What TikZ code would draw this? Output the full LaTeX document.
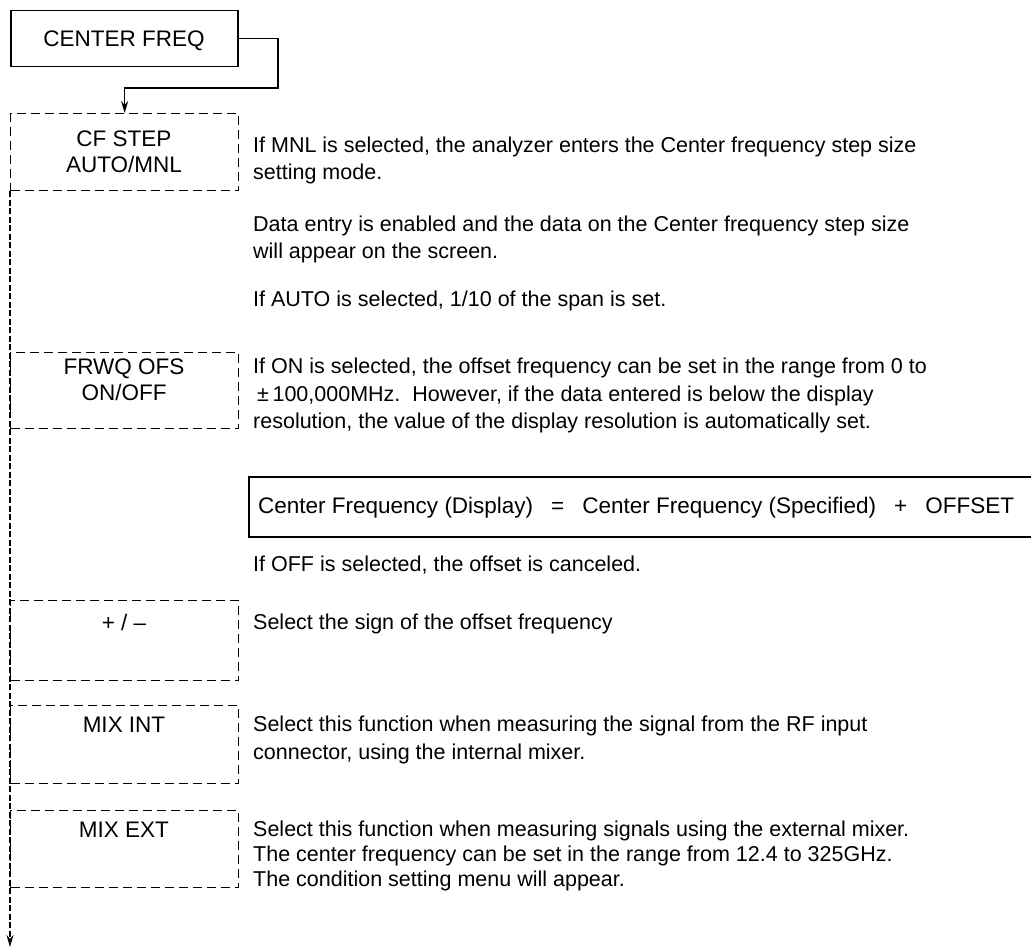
\documentclass[tikz,border=0pt]{standalone}
\usepackage{fontspec}
\setmainfont{Liberation Sans}
\usetikzlibrary{arrows.meta}
\begin{document}
\begin{tikzpicture}[x=1pt,y=-1pt,
  txt/.style={anchor=base west, inner sep=0pt, align=left, font=\fontsize{21.5}{27.5}\selectfont},
  lbl/.style={anchor=base, inner sep=0pt, align=center, font=\fontsize{22.5}{26}\selectfont},
  menubox/.style={draw, dash pattern=on 9pt off 5pt, line width=1.3pt, inner sep=0pt, anchor=north west, minimum width=228pt},
  solidbox/.style={draw, line width=1.5pt, inner sep=0pt, anchor=north west},
  trunk/.style={draw, dash pattern=on 6pt off 2.5pt, line width=1.3pt},
  arr/.style={-{Stealth[length=12pt,width=7pt]}}
]
\clip (0,0) rectangle (1031,949);
\fill[white] (0,0) rectangle (1031,949);

% main key
\node[solidbox, minimum width=227pt, minimum height=56pt] (cf) at (10,10) {};
\node[lbl] (cflbl) at (124,46.5) {CENTER FREQ};

% menu boxes (multi-line labels are placed by the baseline of their last line)
\node[menubox, minimum height=77pt] (cfstep) at (10,113) {};
\node[lbl] (cfsteplbl) at (124,173) {CF STEP\\AUTO/MNL};
\node[menubox, minimum height=76pt] (frwq) at (10,352) {};
\node[lbl] (frwqlbl) at (124,401) {FRWQ OFS\\ON/OFF};
\node[menubox, minimum height=80pt] (sign) at (10,600) {};
\node[lbl] (signlbl) at (124,630) {+ / –};
\node[menubox, minimum height=78pt] (mixint) at (10,705) {};
\node[lbl] (mixintlbl) at (124,732) {MIX INT};
\node[menubox, minimum height=77pt] (mixext) at (10,810) {};
\node[lbl] (mixextlbl) at (124,837) {MIX EXT};

% connectors
\coordinate (bend) at (278,88);
\draw[line width=1.5pt, arr] (cf.east) -| (bend) -| (cfstep.north);
\coordinate (trunkend) at (10,947);
\draw[trunk, arr] (cfstep.south west) -- (trunkend);

% formula box (open to the right)
\node[solidbox, minimum width=820pt, minimum height=60pt] (fbox) at (248,476) {};
\node[txt, font=\fontsize{22.5}{27.5}\selectfont] (ftxt) at (258,513) {Center Frequency (Display)\hspace{18pt}=\hspace{18pt}Center Frequency (Specified)\hspace{18pt}+\hspace{18pt}OFFSET};

% descriptions (placed by the baseline of their last line)
\node[txt] (p1) at (253,180) {If MNL is selected, the analyzer enters the Center frequency step size\\setting mode.};
\node[txt] (p2) at (253,259) {Data entry is enabled and the data on the Center frequency step size\\will appear on the screen.};
\node[txt] (p3) at (253,307) {If AUTO is selected, 1/10 of the span is set.};
\node[txt] (p4) at (253,429) {If ON is selected, the offset frequency can be set in the range from 0 to\\\hspace*{4pt}±\,100,000MHz.\ \ However, if the data entered is below the display\\resolution, the value of the display resolution is automatically set.};
\node[txt] (p5) at (253,571) {If OFF is selected, the offset is canceled.};
\node[txt] (p6) at (253,629) {Select the sign of the offset frequency};
\node[txt] (p7) at (253,759) {Select this function when measuring the signal from the RF input\\connector, using the internal mixer.};
\node[txt, font=\fontsize{21.5}{25}\selectfont] (p8) at (253,886) {Select this function when measuring signals using the external mixer.\\The center frequency can be set in the range from 12.4 to 325GHz.\\The condition setting menu will appear.};
\end{tikzpicture}
\end{document}
